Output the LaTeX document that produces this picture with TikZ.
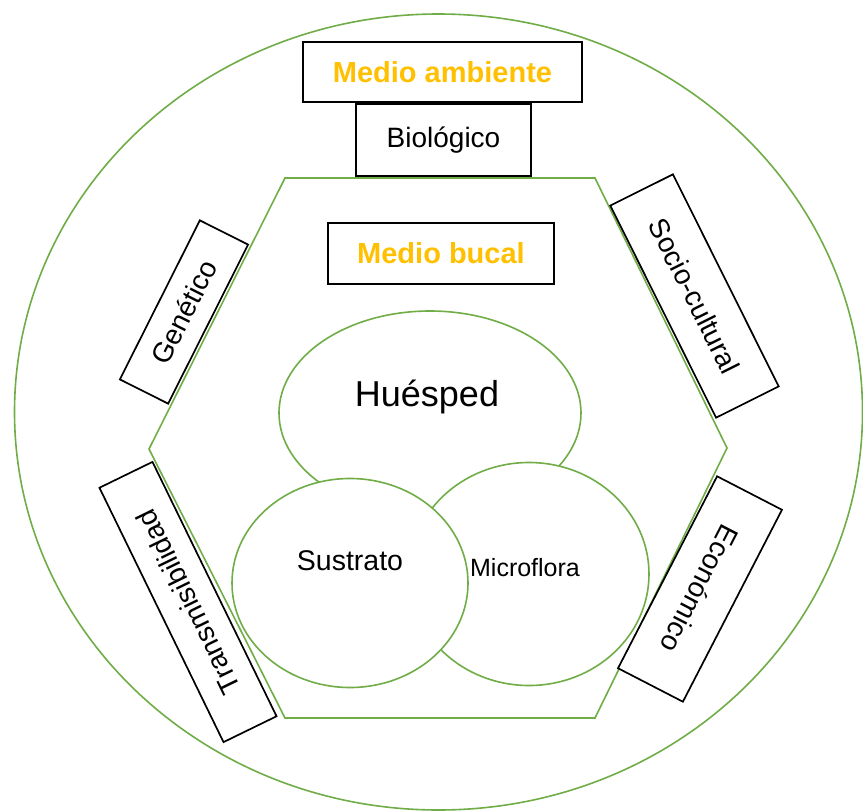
\documentclass[tikz,border=0pt]{standalone}
\usepackage{fontspec}
\setmainfont{Liberation Sans}
\usetikzlibrary{shapes.geometric}
\definecolor{verde}{HTML}{70AD47}
\definecolor{oro}{HTML}{FFC000}
\tikzset{
  caja/.style={draw, line width=1.7pt, fill=white, inner sep=0pt, font=\fontsize{28}{32}\selectfont},
  titulo/.style={caja, text=oro, font=\bfseries\fontsize{29}{33}\selectfont},
  burbuja/.style={ellipse, draw=verde, line width=1.6pt, fill=white, inner sep=0pt},
  linea/.style={verde, line width=1.6pt}
}
\begin{document}
\begin{tikzpicture}[x=1pt, y=-1pt]
\useasboundingbox (0,0) rectangle (863,812);
\node[burbuja, minimum width=848pt, minimum height=796pt] (mundo) at (438.5,412) {};
\draw[linea] (285,178)--(595,178)--(727,448)--(595,718)--(285,718)--(149,449)--cycle;

\node[titulo, minimum width=279pt, minimum height=60pt] (ambiente) at (442.5,72) {Medio ambiente};
\node[caja, minimum width=175pt, minimum height=72pt] (biologico) at (443.5,140) {Biológico};
\node[titulo, minimum width=226pt, minimum height=61pt] (bucal) at (441,253.5) {Medio bucal};

% factores sobre los lados del hexagono
\foreach \nombre/\texto/\x/\y/\giro/\largo/\ancho in {
    genetico/Genético/184/312/63.3/178/54,
    transmision/Transmisibilidad/188/602/116/283/59,
    social/Socio-cultural/694.5/296/-63.5/237/70,
    economico/Económico/700/589/-117.3/216/73}
{
    \node[caja, rotate=\giro, minimum width=\largo pt, minimum height=\ancho pt] (\nombre) at (\x,\y) {\texto};
}

\node[burbuja, minimum width=302pt, minimum height=204pt] (huesped) at (430,413) {};
\node[font=\fontsize{36}{40}\selectfont] (thuesped) at (427,397) {Huésped};
\node[burbuja, minimum width=240pt, minimum height=223pt] (microflora) at (529,574) {};
\node[font=\fontsize{25}{29}\selectfont] (tmicroflora) at (525,568) {Microflora};
\node[burbuja, minimum width=236pt, minimum height=209pt] (sustrato) at (350,583) {};
\node[font=\fontsize{28.5}{32}\selectfont] (tsustrato) at (350,561) {Sustrato};
\end{tikzpicture}
\end{document}
